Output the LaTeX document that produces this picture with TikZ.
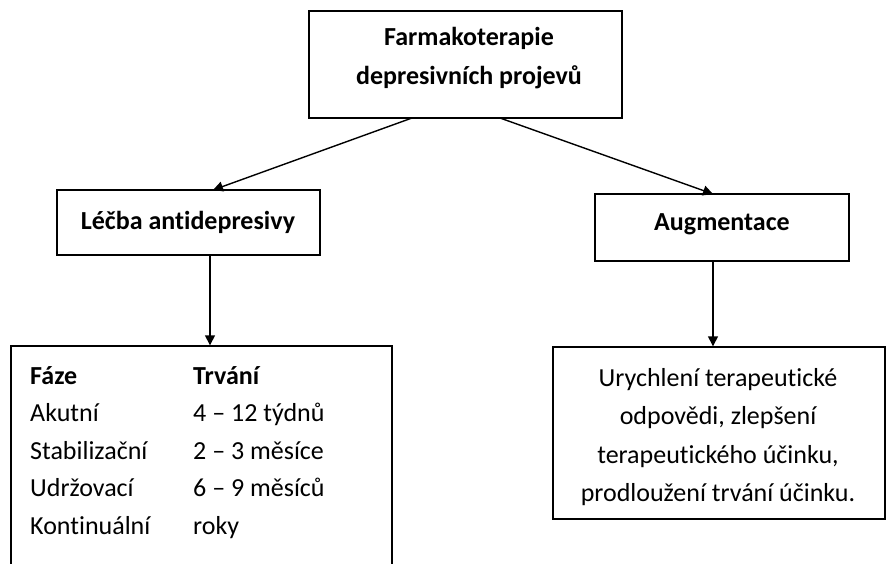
\documentclass[tikz,border=0pt]{standalone}
\usepackage{fontspec}
\setmainfont[Ligatures={NoCommon}]{Carlito}
\usetikzlibrary{arrows.meta}
\begin{document}
\begin{tikzpicture}[x=1pt,y=-1pt,
  box/.style={draw=black,line width=1.4pt,inner sep=0pt},
  txt/.style={inner sep=0pt,font=\fontsize{26}{38}\selectfont},
  btxt/.style={inner sep=0pt,font=\fontsize{26}{38}\selectfont\bfseries,align=center},
  arr/.style={draw=black,line width=1.4pt,-{Triangle[length=10pt,width=10pt]}}]
\useasboundingbox (0,0) rectangle (887,563);
% boxes
\node[box,minimum width=313pt,minimum height=107pt] (top) at (465.5,64.5) {};
\node[box,minimum width=263pt,minimum height=65pt] (left) at (188.5,222.5) {};
\node[box,minimum width=254pt,minimum height=67pt] (right) at (722,227.5) {};
\node[box,minimum width=381pt,minimum height=240pt] (bl) at (201.5,466) {};
\node[box,minimum width=332pt,minimum height=172pt] (br) at (719,433) {};
% texts
\node[btxt,anchor=base] (t1) at (469,45) {Farmakoterapie};
\node[btxt,anchor=base] (t2) at (469,84) {depresivních projevů};
\node[btxt,anchor=base] (tl) at (188,229) {Léčba antidepresivy};
\node[btxt,anchor=base] (tr) at (722,230) {Augmentace};
\node[btxt,anchor=base west] (h1) at (30,384) {Fáze};
\node[btxt,anchor=base west] (h2) at (193,384) {Trvání};
\node[txt,anchor=base west] (a1) at (30,421) {Akutní};
\node[txt,anchor=base west] (a2) at (193,421) {4 – 12 týdnů};
\node[txt,anchor=base west] (b1) at (30,459) {Stabilizační};
\node[txt,anchor=base west] (b2) at (193,459) {2 – 3 měsíce};
\node[txt,anchor=base west] (c1) at (30,496) {Udržovací};
\node[txt,anchor=base west] (c2) at (193,496) {6 – 9 měsíců};
\node[txt,anchor=base west] (d1) at (30,534) {Kontinuální};
\node[txt,anchor=base west] (d2) at (193,534) {roky};
\node[txt,anchor=base] (r1) at (718,386) {Urychlení terapeutické};
\node[txt,anchor=base] (r2) at (718,424) {odpovědi, zlepšení};
\node[txt,anchor=base] (r3) at (718,463) {terapeutického účinku,};
\node[txt,anchor=base] (r4) at (718,501) {prodloužení trvání účinku.};
% connectors
\coordinate (s1) at (412,118);
\coordinate (e1) at (213,190);
\coordinate (s2) at (500,118);
\coordinate (e2) at (713,194);
\draw[arr] (s1) -- (e1);
\draw[arr] (s2) -- (e2);
\draw[arr] (left.south -| 210,0) -- (bl.north -| 210,0);
\draw[arr] (right.south -| 713,0) -- (br.north -| 713,0);
\end{tikzpicture}
\end{document}
